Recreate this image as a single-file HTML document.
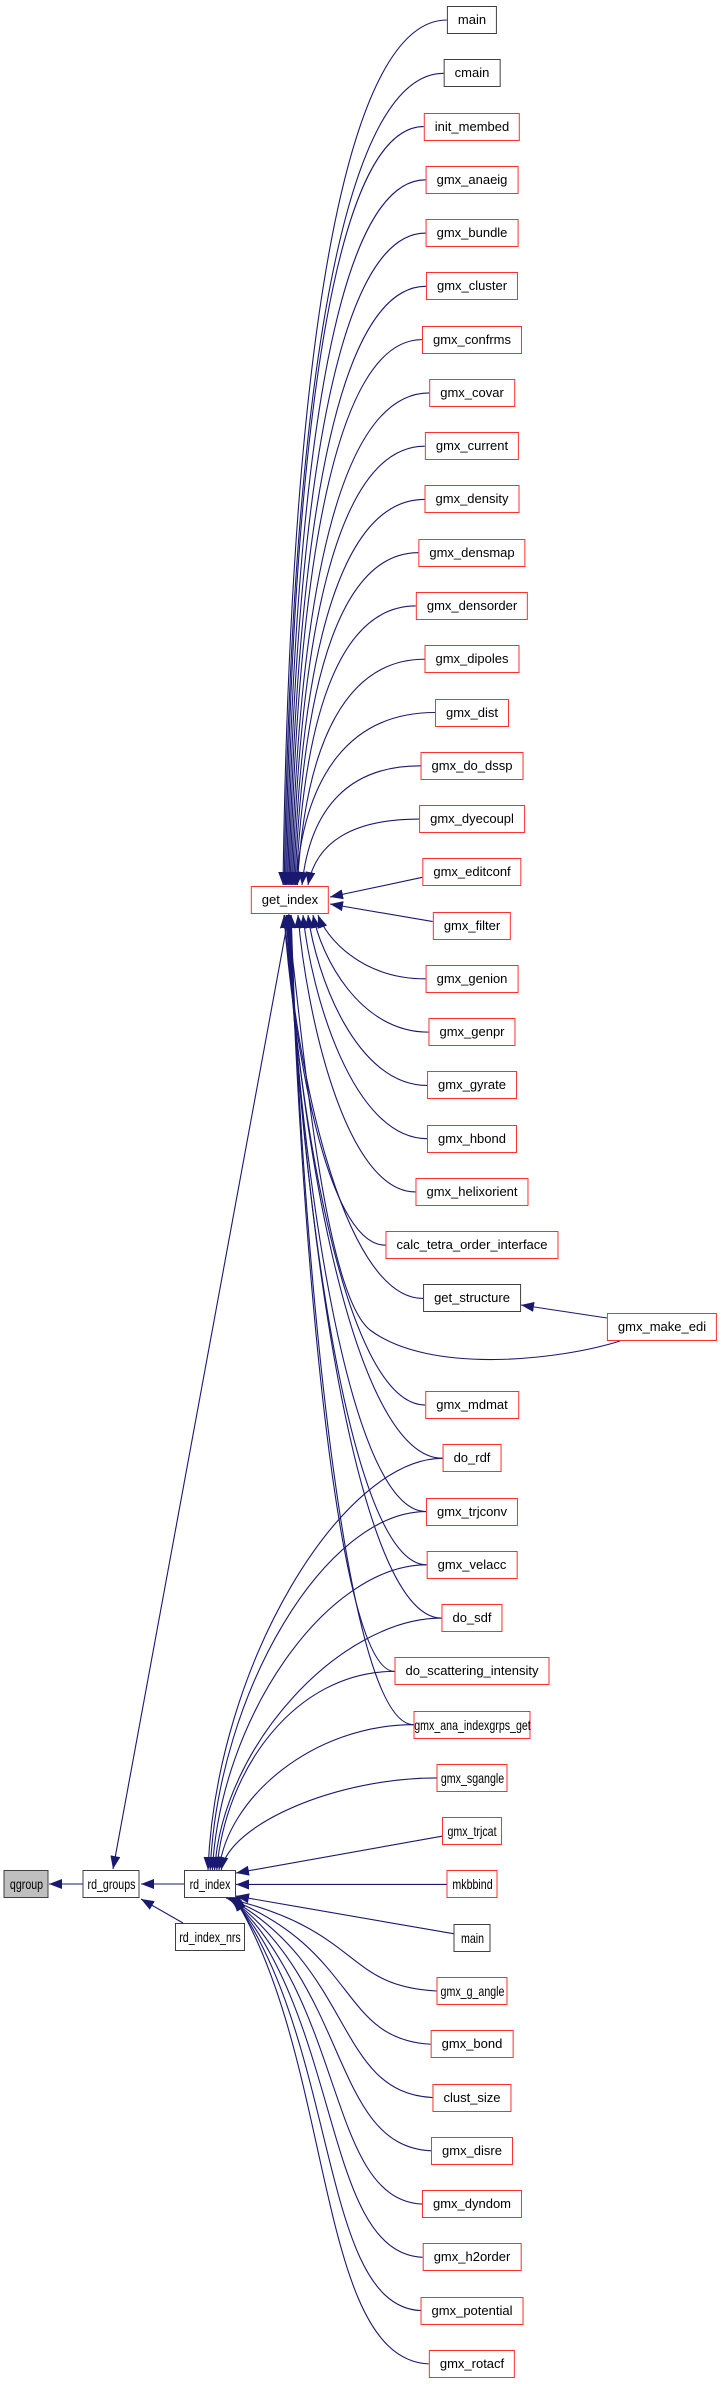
<!DOCTYPE html>
<html><head><meta charset="utf-8">
<style>
html,body{margin:0;padding:0;background:#fff;}
body{width:725px;height:2384px;position:relative;overflow:hidden;font-family:"Liberation Sans",Arial,sans-serif;}
.n{position:absolute;height:28px;line-height:26px;box-sizing:border-box;border:1.5px solid #ff3030;padding:0 10px;font-size:13px;color:#000;background:#fff;white-space:nowrap;transform:translateX(-50%);text-align:center;}
.k{border-color:#404040;}
.c{padding:0;overflow:visible;}
.c span{position:absolute;left:50%;top:0;transform:translateX(-50%) scaleX(0.76);font-size:14px;}
svg{position:absolute;left:0;top:0;}
</style></head><body>
<svg id="s" width="725" height="2384"><defs><marker id="a" markerWidth="14" markerHeight="10" refX="13" refY="5" orient="auto" markerUnits="userSpaceOnUse"><path d="M0,0 L13,5 L0,10 z" fill="#191970"/></marker></defs><g id="g" fill="none" stroke="#191970" stroke-width="1.1"></g></svg>
<div class="n k c" style="left:26px;top:1870px;width:45px;background:#bfbfbf;"><span>qgroup</span></div>
<div class="n k c" style="left:111px;top:1870px;width:57px;"><span>rd_groups</span></div>
<div class="n k c" style="left:210px;top:1870px;width:52px;"><span>rd_index</span></div>
<div class="n k c" style="left:210px;top:1923px;width:70px;"><span>rd_index_nrs</span></div>
<div class="n" style="left:290px;top:886px;">get_index</div>
<div class="n" id="edi" style="left:662px;top:1313px;">gmx_make_edi</div>
<div id="col">
<div class="n k">main</div><div class="n k">cmain</div><div class="n">init_membed</div><div class="n">gmx_anaeig</div><div class="n">gmx_bundle</div><div class="n">gmx_cluster</div><div class="n">gmx_confrms</div><div class="n">gmx_covar</div><div class="n">gmx_current</div><div class="n">gmx_density</div><div class="n">gmx_densmap</div><div class="n">gmx_densorder</div><div class="n">gmx_dipoles</div><div class="n">gmx_dist</div><div class="n">gmx_do_dssp</div><div class="n">gmx_dyecoupl</div><div class="n">gmx_editconf</div><div class="n">gmx_filter</div><div class="n">gmx_genion</div><div class="n">gmx_genpr</div><div class="n">gmx_gyrate</div><div class="n">gmx_hbond</div><div class="n">gmx_helixorient</div><div class="n">calc_tetra_order_interface</div><div class="n k">get_structure</div><div class="n" style="visibility:hidden">x</div><div class="n">gmx_mdmat</div><div class="n">do_rdf</div><div class="n">gmx_trjconv</div><div class="n">gmx_velacc</div><div class="n">do_sdf</div><div class="n">do_scattering_intensity</div><div class="n c" style="width:117px"><span>gmx_ana_indexgrps_get</span></div><div class="n c" style="width:71px"><span>gmx_sgangle</span></div><div class="n c" style="width:60px"><span>gmx_trjcat</span></div><div class="n c" style="width:51px"><span>mkbbind</span></div><div class="n k c" style="width:37px"><span>main</span></div><div class="n c" style="width:71px"><span>gmx_g_angle</span></div><div class="n">gmx_bond</div><div class="n">clust_size</div><div class="n">gmx_disre</div><div class="n">gmx_dyndom</div><div class="n">gmx_h2order</div><div class="n">gmx_potential</div><div class="n">gmx_rotacf</div>
</div>
<script>
var P=53.27,cs=document.querySelectorAll('#col .n'),g=document.getElementById('g'),L=[];
cs.forEach(function(e,i){e.style.left='472px';e.style.top=(6+P*i)+'px';});
function path(d,arrow){var p=document.createElementNS('http://www.w3.org/2000/svg','path');p.setAttribute('d',d);if(arrow!==false)p.setAttribute('marker-end','url(#a)');g.appendChild(p);}
cs.forEach(function(e,i){var r=e.getBoundingClientRect();L[i]=r.left;});
function cy(i){return 20+P*i;}
for(var i=0;i<=32;i++){if(i==25)continue;var x=L[i],y=cy(i);
 if(i==16){path('M'+x+','+(y+5)+' L330,897');continue;}
 if(i==17){path('M'+x+','+(y-4)+' L330,904');continue;}
 var ex,ey;
 if(y<860){ex=283+Math.min(i,15)*1.2;ey=885;if(i>=13)ex=296+(i-13)*6;
  path('M'+x+','+y+' C'+(x-0.6*(x-ex))+','+y+' '+(ex+8)+','+(y+(ey-y)*0.35)+' '+ex+','+ey);}
 else{ex=i<=22?(318-(i-18)*5):(284+(i-23)*0.8);ey=915;
  path('M'+x+','+y+' C'+(x-0.6*(x-ex))+','+y+' '+(ex+8)+','+(ey+(y-ey)*0.35)+' '+ex+','+ey);}
}
path('M607,1318 L521,1305');
path('M620,1341 C560,1360 430,1375 370,1330 C320,1290 300,1000 287,915');
for(var i=27;i<=44;i++){var x=L[i],y=cy(i),ex,ey;
 if(i==35){path('M'+x+','+y+' L236,'+y);continue;}
 if(i==34){path('M'+x+','+(y+5)+' L236,1873');continue;}
 if(i==36){path('M'+x+','+(y-4)+' L236,1896');continue;}
 if(i<34){ex=208+(i-27)*2.2;ey=1870;
  path('M'+x+','+y+' C'+(x-100)+','+y+' '+(ex+8)+','+(ey-(ey-y)*0.5)+' '+ex+','+ey);}
 else{ex=226+(i-37)*1.2;ey=1898;var v=330+(44-i)*4;
  path('M'+x+','+y+' C'+(v-15)+','+(y-5)+' '+(v+5)+','+(ey+(y-ey)*0.35)+' '+ex+','+ey);}
}
path('M83,1884 L49,1884');
path('M184,1884 L141,1884');
path('M183,1923 L141,1899');
path('M289,914 L113,1869');
</script>
</body></html>
